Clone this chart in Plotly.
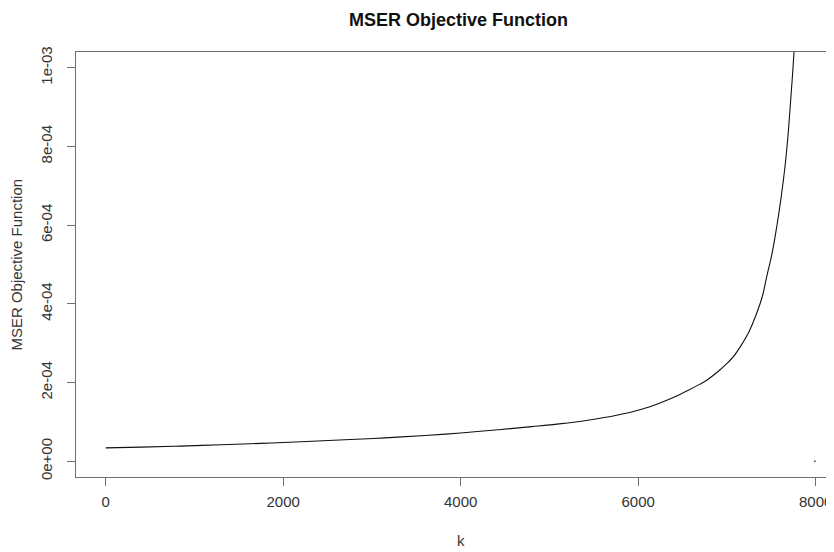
import plotly.graph_objects as go

# values
k_vals = [0, 400, 842, 1300, 1747, 2200, 2695, 3150, 3601, 4000, 4420, 4800, 5108,
          5450, 5757, 6020, 6231, 6395, 6560, 6696, 6772, 6900, 6997, 7080, 7147,
          7250, 7335, 7400, 7448, 7510, 7561, 7610, 7654, 7685, 7710, 7735, 7755, 7775]
mser_vals = [3.41e-5, 3.6e-5, 3.85e-5, 4.2e-5, 4.55e-5, 4.95e-5, 5.45e-5, 5.95e-5, 6.55e-5, 7.2e-5,
             8.0e-5, 8.8e-5, 9.5e-5, 1.05e-4, 1.17e-4, 1.31e-4, 1.47e-4, 1.62e-4, 1.8e-4, 1.96e-4,
             2.06e-4, 2.28e-4, 2.48e-4, 2.68e-4, 2.9e-4, 3.3e-4, 3.76e-4, 4.2e-4, 4.69e-4, 5.3e-4,
             5.96e-4, 6.7e-4, 7.49e-4, 8.2e-4, 8.94e-4, 9.7e-4, 1.038e-3, 1.12e-3]
last_k = [7990]
last_val = [0.0]

x_ticks = [0, 2000, 4000, 6000, 8000]
x_tick_text = ["0", "2000", "4000", "6000", "8000"]
y_ticks = [0, 2e-4, 4e-4, 6e-4, 8e-4, 1e-3]
y_tick_text = ["0e+00", "2e-04", "4e-04", "6e-04", "8e-04", "1e-03"]

FONT = "Liberation Sans, Arial, sans-serif"
TXT = "#333333"
AX = "#6e6e6e"

fig = go.Figure()
fig.add_trace(go.Scatter(x=k_vals, y=mser_vals, mode="lines",
                         line=dict(color="#111111", width=1.1), line_shape="spline",
                         showlegend=False, hoverinfo="skip"))
fig.add_trace(go.Scatter(x=last_k, y=last_val, mode="markers",
                         marker=dict(color="#555555", size=2), showlegend=False,
                         hoverinfo="skip"))

# the page adds an 8px body margin, so the figure is 8px smaller on each axis
fig.update_layout(
    width=826, height=544,
    margin=dict(l=68, r=0, t=44, b=75),
    paper_bgcolor="white", plot_bgcolor="white",
    font=dict(family=FONT, size=15, color=TXT),
    showlegend=False,
)
fig.update_xaxes(
    range=[-334, 8206], tickvals=x_ticks, ticktext=x_tick_text, automargin=False,
    showgrid=False, zeroline=False, showline=True, mirror=True,
    linecolor=AX, linewidth=1.2, ticks="outside", ticklen=8, tickcolor=AX,
    tickwidth=1, tickfont=dict(size=15, color=TXT), ticklabelstandoff=3,
)
fig.update_yaxes(
    range=[-4e-5, 1.04e-3], tickvals=y_ticks, ticktext=y_tick_text, automargin=False,
    showgrid=False, zeroline=False, showline=True, mirror=False,
    linecolor=AX, linewidth=1.2, ticks="outside", ticklen=8, tickcolor=AX,
    tickwidth=1, tickangle=-90, tickfont=dict(size=15, color=TXT),
    ticklabelstandoff=9,
)

fig.add_annotation(text="<b>MSER Objective Function</b>", xref="paper", yref="paper",
                   x=0.504, y=1.103, showarrow=False, xanchor="center", yanchor="top",
                   font=dict(family=FONT, size=18, color="#111111"))
fig.add_annotation(text="k", xref="paper", yref="paper", x=0.5075, y=-0.149,
                   showarrow=False, xanchor="center", yanchor="middle",
                   font=dict(family=FONT, size=15, color=TXT))
fig.add_annotation(text="MSER Objective Function", xref="paper", yref="paper",
                   x=-0.079, y=0.5, showarrow=False, textangle=-90,
                   xanchor="center", yanchor="middle",
                   font=dict(family=FONT, size=15, color=TXT))

fig.write_html("out.html")
